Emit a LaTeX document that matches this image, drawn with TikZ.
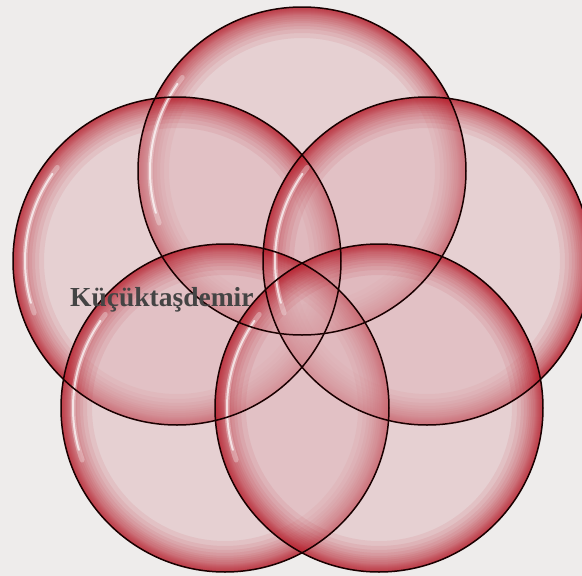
\documentclass[tikz,border=0pt]{standalone}
\usepackage{fontspec}
\setmainfont{Liberation Serif}
\definecolor{bgc}{RGB}{238,236,235}
\definecolor{bin}{RGB}{222,178,183}
\definecolor{rimc}{RGB}{180,10,25}
\definecolor{txt}{RGB}{68,68,68}
\begin{document}
\begin{tikzpicture}[x=1pt,y=-1pt,
  spot/.style={circle, minimum size=328pt, inner sep=0pt},
  rimline/.style={draw=black!90!red, line width=1.5pt},
  shinewide/.style={draw=white, line cap=round, line width=5pt, draw opacity=0.3},
  shinethin/.style={draw=white, line cap=round, line width=2pt, draw opacity=0.7}]
\fill[bgc] (0,0) rectangle (582,576);
\useasboundingbox (0,0) rectangle (582,576);
\node[spot] (c1) at (302,171) {};
\node[spot] (c2) at (177,261) {};
\node[spot] (c3) at (427,261) {};
\node[spot] (c4) at (225,408) {};
\node[spot] (c5) at (379,408) {};
\foreach \n in {c1,c2,c3,c4,c5} {
  \fill[bin, fill opacity=0.47] (\n.center) circle[radius=164pt];
  \foreach \w in {1,2,3,4,5,6,7,8,10,12,14,16,19,22,26,31} {
    \pgfmathsetmacro\rr{164-\w/2}
    \draw[rimc, draw opacity=0.075, line width=\w pt] (\n.center) circle[radius=\rr pt];
  }
}
\foreach \n in {c1,c2,c3,c4,c5} {
  \draw[shinewide] (\n.center) ++(142:152pt) arc[start angle=142, end angle=200, radius=152pt];
  \draw[shinethin] (\n.center) ++(145:152pt) arc[start angle=145, end angle=196, radius=152pt];
}
\foreach \n in {c1,c2,c3,c4,c5} {
  \draw[rimline] (\n.center) circle[radius=164pt];
}
\node[font=\bfseries\fontsize{27.5}{27.5}\selectfont, text=txt, anchor=base west, inner sep=0pt] (lbl) at (70,306) {Küçüktaşdemir};
\end{tikzpicture}
\end{document}
